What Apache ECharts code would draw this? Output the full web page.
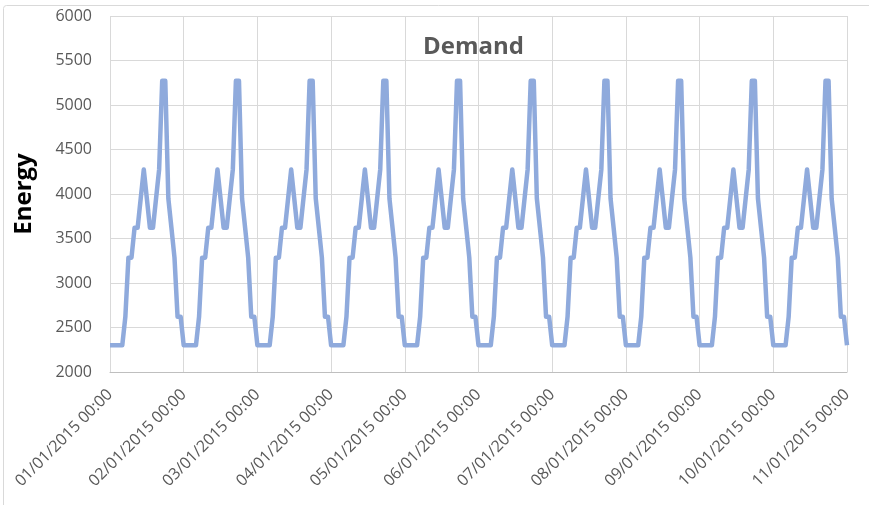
<!DOCTYPE html>
<html>
<head>
<meta charset="utf-8">
<title>Demand</title>
<script src="https://cdn.jsdelivr.net/npm/echarts@6/dist/echarts.min.js"></script>
<style>
  html, body { margin: 0; padding: 0; background: #fff; }
  #chart { width: 869px; height: 505px; }
</style>
</head>
<body>
<div id="chart"></div>
<script>
// days on the axis (dd/mm/yyyy), one point per hour
const days = ['01/01/2015', '02/01/2015', '03/01/2015', '04/01/2015', '05/01/2015',
  '06/01/2015', '07/01/2015', '08/01/2015', '09/01/2015', '10/01/2015', '11/01/2015']

// hourly demand (one row per day)
const demand = [
  2300, 2300, 2300, 2300, 2300, 2620, 3285, 3285, 3620, 3620, 3950, 4276, 3950, 3620, 3620, 3950, 4276, 5272, 5272, 3950, 3620, 3285, 2620, 2620,
  2300, 2300, 2300, 2300, 2300, 2620, 3285, 3285, 3620, 3620, 3950, 4276, 3950, 3620, 3620, 3950, 4276, 5272, 5272, 3950, 3620, 3285, 2620, 2620,
  2300, 2300, 2300, 2300, 2300, 2620, 3285, 3285, 3620, 3620, 3950, 4276, 3950, 3620, 3620, 3950, 4276, 5272, 5272, 3950, 3620, 3285, 2620, 2620,
  2300, 2300, 2300, 2300, 2300, 2620, 3285, 3285, 3620, 3620, 3950, 4276, 3950, 3620, 3620, 3950, 4276, 5272, 5272, 3950, 3620, 3285, 2620, 2620,
  2300, 2300, 2300, 2300, 2300, 2620, 3285, 3285, 3620, 3620, 3950, 4276, 3950, 3620, 3620, 3950, 4276, 5272, 5272, 3950, 3620, 3285, 2620, 2620,
  2300, 2300, 2300, 2300, 2300, 2620, 3285, 3285, 3620, 3620, 3950, 4276, 3950, 3620, 3620, 3950, 4276, 5272, 5272, 3950, 3620, 3285, 2620, 2620,
  2300, 2300, 2300, 2300, 2300, 2620, 3285, 3285, 3620, 3620, 3950, 4276, 3950, 3620, 3620, 3950, 4276, 5272, 5272, 3950, 3620, 3285, 2620, 2620,
  2300, 2300, 2300, 2300, 2300, 2620, 3285, 3285, 3620, 3620, 3950, 4276, 3950, 3620, 3620, 3950, 4276, 5272, 5272, 3950, 3620, 3285, 2620, 2620,
  2300, 2300, 2300, 2300, 2300, 2620, 3285, 3285, 3620, 3620, 3950, 4276, 3950, 3620, 3620, 3950, 4276, 5272, 5272, 3950, 3620, 3285, 2620, 2620,
  2300, 2300, 2300, 2300, 2300, 2620, 3285, 3285, 3620, 3620, 3950, 4276, 3950, 3620, 3620, 3950, 4276, 5272, 5272, 3950, 3620, 3285, 2620, 2620,
  2300
]

const yMin = 2000
const yMax = 6000
const yStep = 500

// hourly category labels
const times = []
days.forEach((d, i) => {
  const hours = i === days.length - 1 ? 1 : 24
  for (let h = 0; h < hours; h++) {
    times.push(d + ' ' + String(h).padStart(2, '0') + ':00')
  }
})

const chart = echarts.init(document.getElementById('chart'))
const font = '"Open Sans", "Noto Sans", sans-serif'

chart.setOption({
  animation: false,
  title: {
    text: 'Demand',
    left: 418,
    top: 30,
    textStyle: { color: '#595959', fontSize: 24, fontWeight: 'bold', fontFamily: font }
  },
  graphic: [
    {
      type: 'rect',
      shape: { x: 3.5, y: 5.5, width: 900, height: 600, r: 3 },
      style: { fill: 'none', stroke: '#D9D9D9', lineWidth: 1 },
      silent: true
    }
  ],
  grid: { left: 110, right: 22, top: 16, bottom: 133 },
  xAxis: {
    type: 'category',
    data: times,
    boundaryGap: false,
    axisLine: { show: true, lineStyle: { color: '#BFBFBF', width: 1 } },
    axisTick: { show: false, interval: 23 },
    axisLabel: {
      interval: 23,
      rotate: 45,
      margin: 20,
      color: '#595959',
      fontSize: 16,
      fontFamily: font
    },
    splitLine: { show: true, interval: 23, lineStyle: { color: '#D9D9D9', width: 1 } }
  },
  yAxis: {
    type: 'value',
    min: yMin,
    max: yMax,
    interval: yStep,
    name: 'Energy',
    nameLocation: 'middle',
    nameGap: 74,
    nameTextStyle: { color: '#000', fontSize: 24, fontWeight: 'bold', fontFamily: font },
    axisLine: { show: false },
    axisTick: { show: false },
    axisLabel: { color: '#595959', fontSize: 16, fontFamily: font, margin: 18, formatter: (v) => String(v) },
    splitLine: { lineStyle: { color: '#D9D9D9', width: 1 } }
  },
  series: [
    {
      type: 'line',
      data: demand,
      showSymbol: false,
      symbol: 'none',
      lineStyle: { color: '#8FAADC', width: 4.5, join: 'round' },
      itemStyle: { color: '#8FAADC' }
    }
  ]
})
</script>
</body>
</html>
